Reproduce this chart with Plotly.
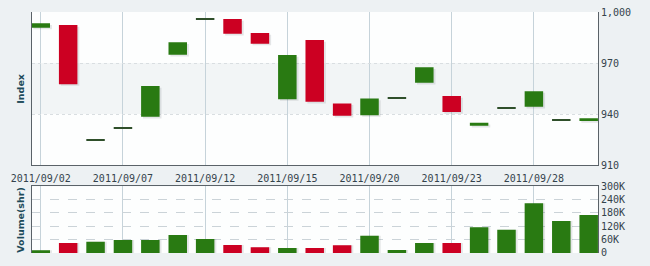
import plotly.graph_objects as go

dates = ["2011/09/02", "2011/09/05", "2011/09/06", "2011/09/07", "2011/09/08", "2011/09/09",
         "2011/09/12", "2011/09/13", "2011/09/14", "2011/09/15", "2011/09/16", "2011/09/19",
         "2011/09/20", "2011/09/21", "2011/09/22", "2011/09/23", "2011/09/26", "2011/09/27",
         "2011/09/28", "2011/09/29", "2011/09/30"]
opens = [990.8, 992.4, 924.5, 931.6, 938.4, 974.9, 995.7, 995.9, 987.6, 948.8, 983.5,
         946.3, 939.4, 949.0, 958.4, 950.6, 933.1, 943.3, 944.3, 936.1, 935.9]
closes = [993.4, 957.6, 924.5, 931.6, 956.5, 982.2, 995.7, 987.2, 981.4, 974.7, 947.2,
          939.0, 949.2, 949.0, 967.5, 941.2, 934.9, 943.3, 953.5, 936.1, 937.5]
volumes = [12000, 45000, 50000, 58000, 58000, 81000, 63000, 36000, 26000, 23000, 23000,
           35000, 77000, 14000, 45000, 45000, 116000, 104000, 224000, 144000, 171000]

index_ticks = [910, 940, 970, 1000]
index_labels = ["910", "940", "970", "1,000"]
vol_ticks = [0, 60000, 120000, 180000, 240000, 300000]
vol_labels = ["0", "60K", "120K", "180K", "240K", "300K"]
date_ticks = dates[::3]

GREEN = "#297a12"
RED = "#cc0022"
DOJI = "#2f4f2a"
AXIS = "#5a6268"
TXT = "#34434c"
SHADOW = "rgba(60,70,80,0.13)"
MIN_H = 0.6
W = 0.675
SHIFT = 0.07  # shadow offset in category units (~2px)

fig = go.Figure()

groups = {"up": [], "down": [], "flat": []}
for i, (o, c) in enumerate(zip(opens, closes)):
    if c > o:
        groups["up"].append(i)
    elif c < o:
        groups["down"].append(i)
    else:
        groups["flat"].append(i)

# soft drop shadows under the candle bodies (non-doji)
body_idx = groups["up"] + groups["down"]
fig.add_trace(go.Bar(
    x=[dates[i] for i in body_idx],
    base=[min(opens[i], closes[i]) - 1.0 for i in body_idx],
    y=[abs(closes[i] - opens[i]) for i in body_idx],
    width=W, offset=-W / 2 + SHIFT,
    marker=dict(color=SHADOW, line=dict(width=0)),
    xaxis="x", yaxis="y", showlegend=False, hoverinfo="skip",
))

colors = {"up": GREEN, "down": RED, "flat": DOJI}
for key, idx in groups.items():
    fig.add_trace(go.Bar(
        x=[dates[i] for i in idx],
        base=[min(opens[i], closes[i]) for i in idx],
        y=[max(abs(closes[i] - opens[i]), MIN_H) for i in idx],
        width=W, offset=-W / 2,
        marker=dict(color=colors[key], line=dict(width=0)),
        xaxis="x", yaxis="y", showlegend=False, hoverinfo="skip",
    ))

fig.add_trace(go.Bar(
    x=dates, y=volumes, width=W, offset=-W / 2 + SHIFT,
    marker=dict(color=SHADOW, line=dict(width=0)),
    xaxis="x2", yaxis="y2", showlegend=False, hoverinfo="skip",
))
vol_colors = [RED if c < o else GREEN for o, c in zip(opens, closes)]
fig.add_trace(go.Bar(
    x=dates, y=volumes, width=W, offset=-W / 2,
    marker=dict(color=vol_colors, line=dict(width=0)),
    xaxis="x2", yaxis="y2", showlegend=False, hoverinfo="skip",
))

tickfont = dict(family="DejaVu Sans Mono", size=10, color=TXT)

fig.update_layout(
    width=650, height=266,
    margin=dict(l=32, r=52, t=12, b=13, pad=0),
    paper_bgcolor="#edf1f3",
    plot_bgcolor="#fdfefe",
    barmode="overlay",
    xaxis=dict(
        type="category", domain=[0, 1], anchor="y", automargin=False,
        categoryorder="array", categoryarray=dates,
        range=[-0.32, 20.34],
        tickvals=date_ticks, ticktext=date_ticks, tickangle=0,
        tickfont=tickfont, ticks="", ticklabelstandoff=4,
        showgrid=True, gridcolor="#c6d3da", gridwidth=1,
        showline=True, linecolor=AXIS, linewidth=1,
        zeroline=False,
    ),
    yaxis=dict(
        domain=[0.3644, 1], anchor="x", side="right", automargin=False,
        range=[910, 1000],
        tickvals=index_ticks, ticktext=index_labels,
        tickfont=tickfont, ticks="",
        showgrid=True, gridcolor="#d9dee1", griddash="dot",
        showline=True, linecolor=AXIS, linewidth=1, mirror=True,
        zeroline=False,
    ),
    xaxis2=dict(
        type="category", domain=[0, 1], anchor="y2", matches="x", automargin=False,
        categoryorder="array", categoryarray=dates,
        side="top", showticklabels=False, ticks="",
        tickvals=date_ticks,
        showgrid=True, gridcolor="#c6d3da", gridwidth=1,
        showline=True, linecolor=AXIS, linewidth=1,
        zeroline=False,
    ),
    yaxis2=dict(
        domain=[0, 0.2771], anchor="x2", side="right", automargin=False,
        range=[0, 300000],
        tickvals=vol_ticks, ticktext=vol_labels,
        tickfont=tickfont, ticks="",
        showgrid=True, gridcolor="#cbd3d8", griddash="dash",
        showline=True, linecolor=AXIS, linewidth=1, mirror=True,
        zeroline=False,
    ),
    shapes=[
        dict(type="rect", xref="x domain", yref="y", x0=0, x1=1, y0=940, y1=970,
             fillcolor="#f2f5f6", line=dict(width=0), layer="below"),
    ],
    annotations=[
        dict(text="<b>Index</b>", textangle=-90, xref="paper", yref="paper",
             x=-0.021, y=(0.3644 + 1) / 2, xanchor="center", yanchor="middle",
             showarrow=False, font=dict(family="DejaVu Sans", size=9.5, color="#1d4b5a")),
        dict(text="<b>Volume(shr)</b>", textangle=-90, xref="paper", yref="paper",
             x=-0.021, y=0.2771 / 2, xanchor="center", yanchor="middle",
             showarrow=False, font=dict(family="DejaVu Sans", size=9.5, color="#1d4b5a")),
    ],
)

fig.write_html("out.html")
